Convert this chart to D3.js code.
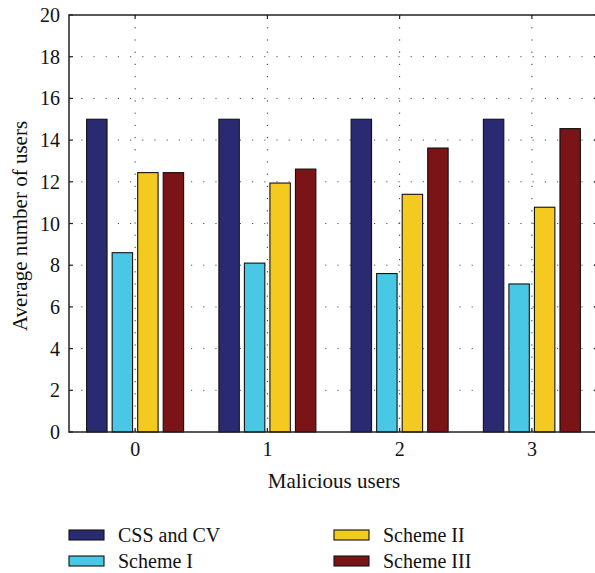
<!DOCTYPE html>
<html>
<head>
<meta charset="utf-8">
<script src="https://cdn.jsdelivr.net/npm/d3@7"></script>
<style>
  body { margin: 0; background: #fff; }
  svg { display: block; font-family: "Liberation Serif", "DejaVu Serif", serif; }
</style>
</head>
<body>
<div id="chart"></div>
<script>
// data
var categories = ["0", "1", "2", "3"];
var seriesNames = ["CSS and CV", "Scheme I", "Scheme II", "Scheme III"];
var cssCV     = [15, 15, 15, 15];
var schemeI   = [8.6, 8.1, 7.6, 7.1];
var schemeII  = [12.44, 11.94, 11.4, 10.78];
var schemeIII = [12.44, 12.61, 13.62, 14.55];
var yTicks = [0, 2, 4, 6, 8, 10, 12, 14, 16, 18, 20];
var colors = ["#2a2a72", "#48c8e4", "#f4ca20", "#7a1416"];

var series = [cssCV, schemeI, schemeII, schemeIII];

var W = 595, H = 573;
var margin = {top: 15, right: -3, bottom: 141, left: 69},
    width = W - margin.left - margin.right,
    height = H - margin.top - margin.bottom;

var svg = d3.select("#chart")
  .append("svg")
    .attr("width", W)
    .attr("height", H)
  .append("g")
    .attr("transform", "translate(" + margin.left + "," + margin.top + ")");

var x = d3.scaleBand()
    .domain(categories)
    .range([0, width])
    .paddingInner(0)
    .paddingOuter(0);

var inner = d3.scaleBand()
    .domain(seriesNames)
    .range([-48.5, 48.5])
    .paddingInner(0.2);

var y = d3.scaleLinear()
    .domain([0, 20])
    .range([height, 0]);

// grid
svg.append("g")
  .selectAll("line")
  .data(yTicks.slice(1, -1))
  .enter().append("line")
    .attr("x1", 0).attr("x2", width)
    .attr("y1", function(d) { return y(d); })
    .attr("y2", function(d) { return y(d); })
    .attr("stroke", "#555")
    .attr("stroke-width", 1)
    .attr("stroke-dasharray", "1.2,11");

svg.append("g")
  .selectAll("line")
  .data(categories)
  .enter().append("line")
    .attr("x1", function(d) { return x(d) + x.bandwidth() / 2; })
    .attr("x2", function(d) { return x(d) + x.bandwidth() / 2; })
    .attr("y1", 0).attr("y2", height)
    .attr("stroke", "#333")
    .attr("stroke-width", 1)
    .attr("stroke-dasharray", "1.2,11");

// bars
svg.append("g")
  .selectAll("g")
  .data(series)
  .enter().append("g")
    .attr("fill", function(d, i) { return colors[i]; })
  .selectAll("rect")
  .data(function(d, i) { return d.map(function(v, j) { return {s: i, c: j, v: v}; }); })
  .enter().append("rect")
    .attr("x", function(d) { return x(categories[d.c]) + x.bandwidth() / 2 + inner(seriesNames[d.s]); })
    .attr("y", function(d) { return y(d.v); })
    .attr("width", inner.bandwidth())
    .attr("height", function(d) { return y(0) - y(d.v); })
    .attr("stroke", "#111")
    .attr("stroke-width", 1.1);

// axes box
var axisColor = "#222";
svg.append("rect")
    .attr("x", 0).attr("y", 0)
    .attr("width", width).attr("height", height)
    .attr("fill", "none")
    .attr("stroke", axisColor)
    .attr("stroke-width", 1.5);

// y ticks (inward, both sides) and labels
var yAxis = svg.append("g").attr("font-size", 20).attr("fill", "#111");
yTicks.forEach(function(t) {
  yAxis.append("line")
    .attr("x1", 0).attr("x2", 4)
    .attr("y1", y(t)).attr("y2", y(t))
    .attr("stroke", axisColor).attr("stroke-width", 1.2);
  yAxis.append("line")
    .attr("x1", width - 4).attr("x2", width)
    .attr("y1", y(t)).attr("y2", y(t))
    .attr("stroke", axisColor).attr("stroke-width", 1.2);
  yAxis.append("text")
    .attr("x", -9)
    .attr("y", y(t))
    .attr("dy", "0.35em")
    .attr("text-anchor", "end")
    .text(t);
});

// x ticks and labels
var xAxis = svg.append("g").attr("font-size", 20).attr("fill", "#111");
categories.forEach(function(c) {
  var cx = x(c) + x.bandwidth() / 2;
  xAxis.append("line")
    .attr("x1", cx).attr("x2", cx)
    .attr("y1", height).attr("y2", height - 4)
    .attr("stroke", axisColor).attr("stroke-width", 1.2);
  xAxis.append("line")
    .attr("x1", cx).attr("x2", cx)
    .attr("y1", 0).attr("y2", 4)
    .attr("stroke", axisColor).attr("stroke-width", 1.2);
  xAxis.append("text")
    .attr("x", cx)
    .attr("y", height + 24)
    .attr("text-anchor", "middle")
    .text(c);
});

// axis titles
svg.append("text")
    .attr("x", 334 - margin.left)
    .attr("y", 488 - margin.top)
    .attr("font-size", 21)
    .attr("fill", "#111")
    .attr("text-anchor", "middle")
    .text("Malicious users");

svg.append("text")
    .attr("transform", "translate(" + (27 - margin.left) + "," + (226 - margin.top) + ") rotate(-90)")
    .attr("font-size", 21)
    .attr("fill", "#111")
    .attr("text-anchor", "middle")
    .text("Average number of users");

// legend
var legendPos = [[69, 535], [69, 561], [334, 535], [334, 561]];
var legend = svg.append("g")
    .attr("transform", "translate(" + (-margin.left) + "," + (-margin.top) + ")");
seriesNames.forEach(function(name, i) {
  var p = legendPos[i];
  legend.append("rect")
    .attr("x", p[0]).attr("y", p[1] - 5)
    .attr("width", 35).attr("height", 10)
    .attr("fill", colors[i])
    .attr("stroke", "#111")
    .attr("stroke-width", 1.1);
  legend.append("text")
    .attr("x", p[0] + 49)
    .attr("y", p[1])
    .attr("dy", "0.35em")
    .attr("font-size", 20)
    .attr("fill", "#111")
    .text(name);
});
</script>
</body>
</html>
